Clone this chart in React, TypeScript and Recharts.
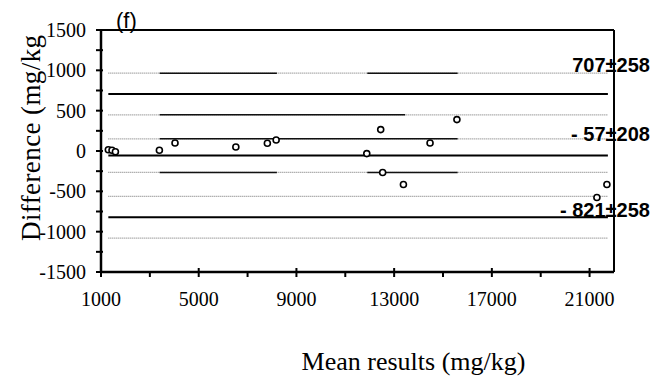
import { ScatterChart, Scatter, XAxis, YAxis, ReferenceLine } from 'recharts';

// mean of the two methods (mg/kg)
const meanResults = [1300, 1450, 1590, 3390, 4030, 6520, 7810, 8170, 11880, 12450, 12530, 13380, 14470, 15570, 21300, 21710];
// difference between the two methods (mg/kg)
const differences = [15, 9, -9, 9, 100, 50, 96, 137, -32, 265, -267, -415, 100, 389, -576, -415];

// bias lines: mean ± half-width of the confidence band
const limitNames = ['upper', 'bias', 'lower'];
const limitMeans = [707, -57, -821];
const limitSpreads = [258, 208, 258];
const limitLabels = ['707±258', '- 57±208', '- 821±258'];
const labelShiftY = [-22, -15, 0];

// x-range the lines are drawn over
const lineStart = 1300;
const lineEnd = 21750;
// darker stretches drawn over the dotted band lines (upper+, upper-, bias+, bias-)
const darkStretches = [
  [[3400, 8200], [11900, 15600]],
  [[3400, 13450]],
  [[3400, 15600]],
  [[3400, 8200], [11900, 15600]],
];

const xTicks = [1000, 3000, 5000, 7000, 9000, 11000, 13000, 15000, 17000, 19000, 21000];
const yTicks = [-1500, -1250, -1000, -750, -500, -250, 0, 250, 500, 750, 1000, 1250, 1500];

const points = meanResults.map((m, i) => ({ mean: m, diff: differences[i] }));

const serif = '"Liberation Serif", "Times New Roman", serif';
const sans = '"Liberation Sans", Arial, sans-serif';

const YTick = (props: any) => {
  const { x, y, payload } = props;
  const v = payload.value;
  const ax = x + 15;
  const major = v % 500 === 0;
  return (
    <g>
      <line x1={ax - 5} x2={ax + 2} y1={y} y2={y} stroke="#000" strokeWidth={2} />
      {major && (
        <text x={x} y={y} dy="0.35em" textAnchor="end" fontFamily={serif} fontSize={20} fill="#000">
          {v}
        </text>
      )}
    </g>
  );
};

const XTick = (props: any) => {
  const { x, y, payload } = props;
  const v = payload.value;
  const ay = y - 20;
  const major = (v - 1000) % 4000 === 0;
  return (
    <g>
      <line x1={x} x2={x} y1={major ? ay - 4 : ay} y2={ay + 5} stroke="#000" strokeWidth={2} />
      {major && (
        <text x={x} y={y} dy="0.7em" textAnchor="middle" fontFamily={serif} fontSize={20} fill="#000">
          {v}
        </text>
      )}
    </g>
  );
};

export default function App() {
  const bandLines: { y: number; dark: number[][] }[] = [];
  limitMeans.forEach((m, i) => {
    bandLines.push({ y: m + limitSpreads[i], dark: darkStretches[i * 2] || [] });
    bandLines.push({ y: m - limitSpreads[i], dark: darkStretches[i * 2 + 1] || [] });
  });

  return (
    <div style={{ position: 'absolute', left: 0, top: 0, background: '#fff' }}>
      <ScatterChart width={654} height={381} margin={{ top: 30, right: 40, bottom: 0, left: 0 }}>
        <XAxis
          type="number"
          dataKey="mean"
          domain={[1000, 22000]}
          ticks={xTicks}
          interval={0}
          height={109}
          tickSize={0}
          tickMargin={20}
          tickLine={false}
          tick={<XTick />}
          stroke="#000"
          axisLine={{ stroke: '#000', strokeWidth: 2.5 }}
          label={(p: any) => {
            const vb = p.viewBox;
            return (
              <text x={vb.x + vb.width / 2 + 56} y={vb.y + 98} textAnchor="middle" fontFamily={serif} fontSize={26} fill="#000">
                Mean results (mg/kg)
              </text>
            );
          }}
        />
        <YAxis
          type="number"
          dataKey="diff"
          domain={[-1500, 1500]}
          ticks={yTicks}
          interval={0}
          width={101}
          tickSize={0}
          tickMargin={15}
          tickLine={false}
          tick={<YTick />}
          stroke="#000"
          axisLine={{ stroke: '#000', strokeWidth: 2.5 }}
          label={(p: any) => {
            const vb = p.viewBox;
            const bx = vb.x + 40;
            const by = vb.y + vb.height - 31;
            return (
              <text
                x={bx}
                y={by}
                transform={`rotate(-90 ${bx} ${by})`}
                textAnchor="start"
                fontFamily={serif}
                fontSize={27}
                letterSpacing={0.4}
                fill="#000"
              >
                Difference (mg/kg
              </text>
            );
          }}
        />

        {/* frame on top and right */}
        <ReferenceLine
          y={1500}
          stroke="#000"
          strokeWidth={2}
          label={(p: any) => (
            <text x={p.viewBox.x + 15} y={p.viewBox.y - 2} fontFamily={sans} fontSize={22} fill="#000">
              (f)
            </text>
          )}
        />
        <ReferenceLine x={22000} stroke="#000" strokeWidth={2} />

        {/* dotted band lines with darker stretches */}
        {bandLines.map((b, i) => (
          <ReferenceLine
            key={`band-${i}`}
            segment={[{ x: lineStart, y: b.y }, { x: lineEnd, y: b.y }]}
            stroke="#8a8a8a"
            strokeWidth={1.2}
            strokeDasharray="1 1"
          />
        ))}
        {bandLines.map((b, i) =>
          b.dark.map((d, j) => (
            <ReferenceLine
              key={`dark-${i}-${j}`}
              segment={[{ x: d[0], y: b.y }, { x: d[1], y: b.y }]}
              stroke="#111"
              strokeWidth={1.5}
            />
          ))
        )}

        {/* mean lines with their labels */}
        {limitMeans.map((m, i) => (
          <ReferenceLine
            key={limitNames[i]}
            segment={[{ x: lineStart, y: m }, { x: lineEnd, y: m }]}
            stroke="#000"
            strokeWidth={2}
            label={(p: any) => {
              const vb = p.viewBox;
              return (
                <text
                  x={vb.x + vb.width + 42}
                  y={vb.y + labelShiftY[i]}
                  textAnchor="end"
                  fontFamily={sans}
                  fontWeight="bold"
                  fontSize={20}
                  fill="#000"
                >
                  {limitLabels[i]}
                </text>
              );
            }}
          />
        ))}

        <Scatter
          data={points}
          isAnimationActive={false}
          shape={(p: any) => <circle cx={p.cx} cy={p.cy} r={3} fill="#fff" stroke="#000" strokeWidth={1.6} />}
        />
      </ScatterChart>
    </div>
  );
}
